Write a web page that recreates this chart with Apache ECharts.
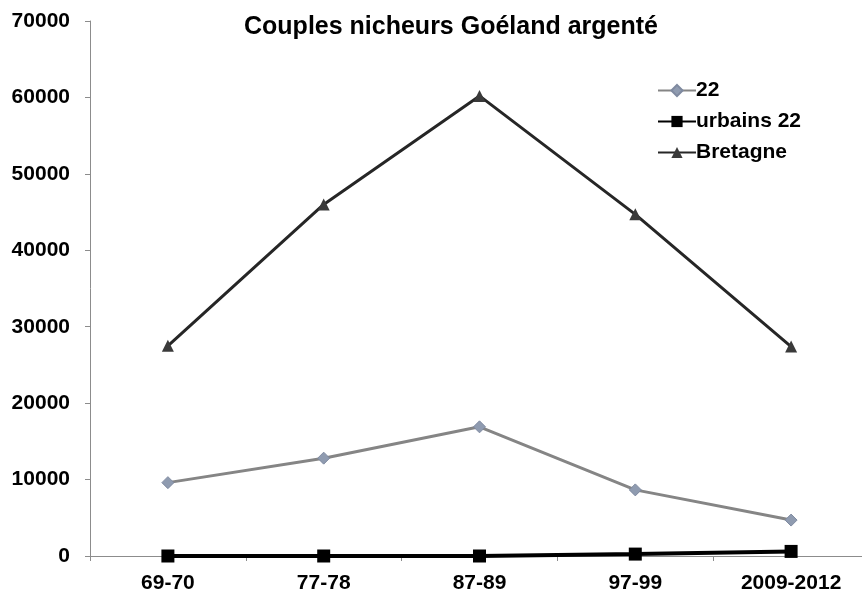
<!DOCTYPE html>
<html>
<head>
<meta charset="utf-8">
<script src="https://cdn.jsdelivr.net/npm/echarts@6/dist/echarts.min.js"></script>
<style>
  html, body { margin: 0; padding: 0; background: #fff; }
  #chart { width: 862px; height: 591px; }
</style>
</head>
<body>
<div id="chart"></div>
<script>
const categories = ['69-70', '77-78', '87-89', '97-99', '2009-2012']
const cotes22 = [9600, 12800, 16900, 8650, 4700]
const urbains22 = [0, 0, 0, 250, 600]
const bretagne = [27500, 46000, 60200, 44700, 27400]
const yTicks = [0, 10000, 20000, 30000, 40000, 50000, 60000, 70000]

const font = 'Liberation Sans, Arial, sans-serif'
const chart = echarts.init(document.getElementById('chart'))

chart.setOption({
  animation: false,
  title: {
    text: 'Couples nicheurs Goéland argenté',
    left: 446,
    textAlign: 'center',
    top: 10,
    textStyle: { fontFamily: font, fontSize: 25, fontWeight: 'bold', color: '#000' },
  },
  legend: {
    orient: 'vertical',
    left: 652,
    top: 75,
    itemWidth: 38,
    itemHeight: 14,
    itemGap: 10,
    textStyle: { fontFamily: font, fontSize: 21, fontWeight: 'bold', color: '#000', padding: [0, 0, 0, -5] },
    data: ['22', 'urbains 22', 'Bretagne'],
  },
  grid: { left: 90, right: -7, top: 21, bottom: 35, outerBoundsMode: 'none' },
  xAxis: {
    type: 'category',
    data: categories,
    axisLine: { lineStyle: { color: '#8c8c8c', width: 1 } },
    axisTick: { show: true, length: 5, lineStyle: { color: '#8c8c8c' } },
    axisLabel: { fontFamily: font, fontSize: 21, fontWeight: 'bold', color: '#000', margin: 17 },
  },
  yAxis: {
    type: 'value',
    min: yTicks[0],
    max: yTicks[yTicks.length - 1],
    interval: 10000,
    splitLine: { show: false },
    axisLine: { show: true, lineStyle: { color: '#8c8c8c', width: 1 } },
    axisTick: { show: true, length: 5, lineStyle: { color: '#8c8c8c' } },
    axisLabel: {
      fontFamily: font, fontSize: 21, fontWeight: 'bold', color: '#000', margin: 20,
      formatter: (v) => String(v),
    },
  },
  series: [
    {
      name: '22',
      type: 'line',
      data: cotes22,
      symbol: 'diamond',
      symbolSize: 12,
      lineStyle: { color: '#858585', width: 3 },
      itemStyle: { color: '#8f9bb0', borderColor: '#7f8aa0', borderWidth: 1 },
    },
    {
      name: 'urbains 22',
      type: 'line',
      data: urbains22,
      symbol: 'rect',
      symbolSize: 13,
      lineStyle: { color: '#000', width: 4 },
      itemStyle: { color: '#000' },
    },
    {
      name: 'Bretagne',
      type: 'line',
      data: bretagne,
      symbol: 'triangle',
      symbolSize: 12,
      lineStyle: { color: '#262626', width: 3 },
      itemStyle: { color: '#3a3a3a' },
    },
  ],
})
</script>
</body>
</html>
